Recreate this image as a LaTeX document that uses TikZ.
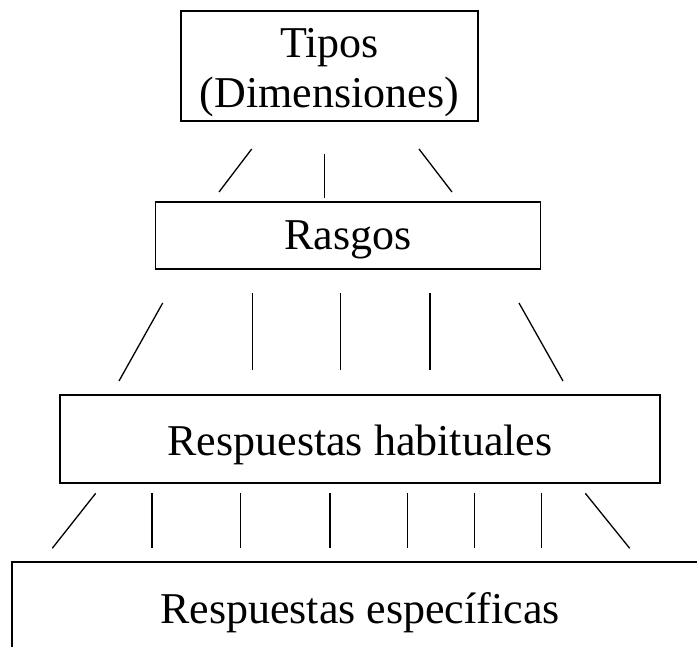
\documentclass[tikz,border=0pt]{standalone}
\usepackage{fontspec}
\setmainfont{Liberation Serif}
\begin{document}
\begin{tikzpicture}[x=1pt,y=-1pt,
  box/.style={draw,line width=1.5pt,inner sep=0pt,font=\fontsize{44}{50}\selectfont},
  conn/.style={line width=1.3pt}]
\clip (0,0) rectangle (697,647);
% boxes
\node[box,align=center,minimum width=297pt,text height=97pt,text depth=13pt] (tipos) at (329.5,66) {Tipos\\(Dimensiones)};
\node[box,minimum width=385pt,text height=48pt,text depth=19pt] (rasgos) at (347.8,235.5) {Rasgos};
\node[box,minimum width=600pt,text height=60pt,text depth=28pt] (hab) at (360,439) {Respuestas habituales};
\node[box,minimum width=696pt,text height=61pt,text depth=77pt] (esp) at (360,631) {Respuestas específicas};
% tipos - rasgos
\draw[conn] (251.7,149) coordinate (t1a) -- (219,192) coordinate (t1b);
\draw[conn] (324.3,154) coordinate (t2a) -- (324.3,198) coordinate (t2b);
\draw[conn] (419,149) coordinate (t3a) -- (452,192) coordinate (t3b);
% rasgos - habituales
\draw[conn] (162.7,303) coordinate (r1a) -- (119,381) coordinate (r1b);
\draw[conn] (252.3,293) coordinate (r2a) -- (252.3,370) coordinate (r2b);
\draw[conn] (340.7,293) coordinate (r3a) -- (340.7,370) coordinate (r3b);
\draw[conn] (430,293) coordinate (r4a) -- (430,370) coordinate (r4b);
\draw[conn] (519,303) coordinate (r5a) -- (563,381) coordinate (r5b);
% habituales - especificas
\draw[conn] (95.7,493.3) coordinate (h1a) -- (52.3,548.3) coordinate (h1b);
\foreach \x [count=\i from 2] in {152,240.7,330,407.3,474.3,541.3}
  \draw[conn] (\x,493.3) coordinate (h\i a) -- (\x,548.3) coordinate (h\i b);
\draw[conn] (585.3,493.3) coordinate (h8a) -- (629.7,548.3) coordinate (h8b);
\end{tikzpicture}
\end{document}
